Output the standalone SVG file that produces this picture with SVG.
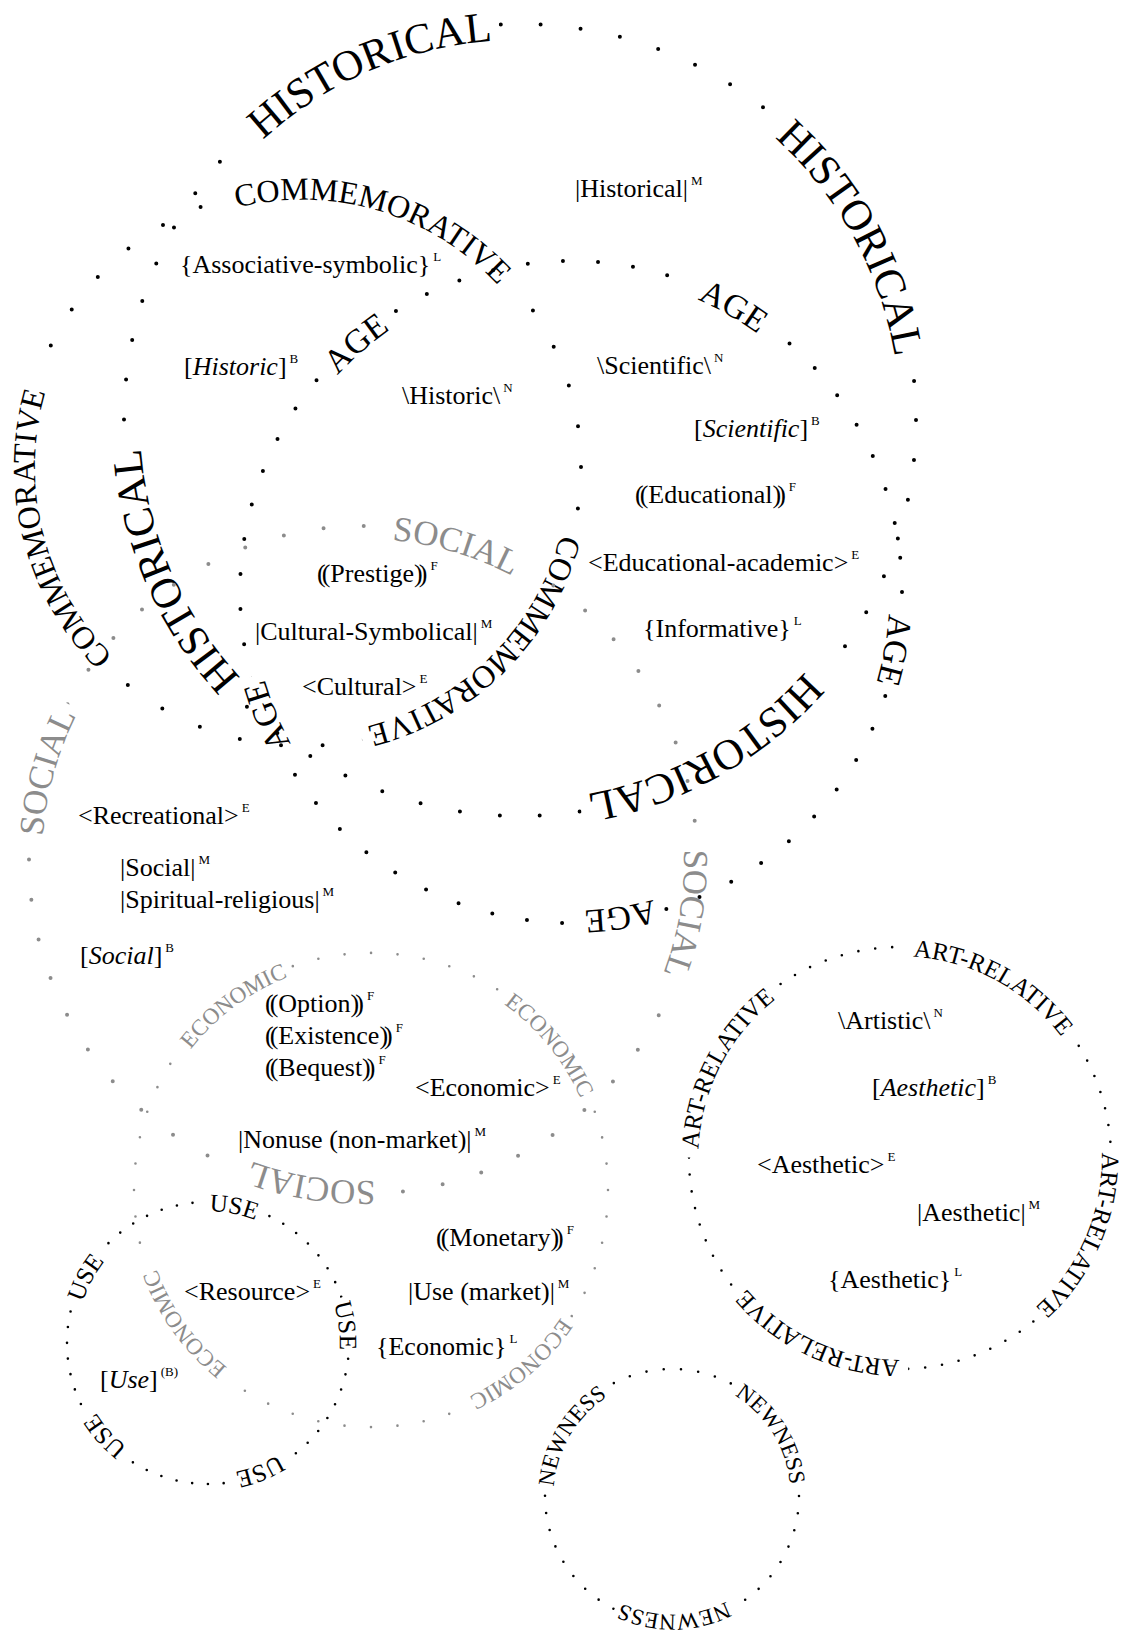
<svg xmlns="http://www.w3.org/2000/svg" width="1125" height="1633" viewBox="0 0 1125 1633">
<style>
.cat{font-family:"Liberation Serif","Times New Roman",serif;text-anchor:middle}
.blk{fill:#000}
.gry{fill:#8c8c8c}
.v{font-family:"Liberation Serif","Times New Roman",serif;font-size:26px;fill:#000}
.sup{font-size:13px}
.it{font-style:italic}
.dot{fill:none;stroke-linecap:round}
.db{stroke:#000;stroke-width:4}
.ds{stroke:#000;stroke-width:2.6}
.gb{stroke:#8c8c8c;stroke-width:4}
.gs{stroke:#8c8c8c;stroke-width:2.6}
.mk{fill:none;stroke:#000;stroke-width:20}
</style>
<defs>
<path id="tpH" d="M900.1,420 A380.1,380.1 0 1 1 139.9,420 A380.1,380.1 0 1 1 900.1,420 A380.1,380.1 0 1 1 139.9,420 A380.1,380.1 0 1 1 900.1,420"/>
<path id="tpC" d="M569.16,467 A267.16,267.16 0 1 1 34.84,467 A267.16,267.16 0 1 1 569.16,467 A267.16,267.16 0 1 1 34.84,467 A267.16,267.16 0 1 1 569.16,467"/>
<path id="tpA" d="M889.42,592 A318.42,318.42 0 1 1 252.58,592 A318.42,318.42 0 1 1 889.42,592 A318.42,318.42 0 1 1 252.58,592 A318.42,318.42 0 1 1 889.42,592"/>
<path id="tpS" d="M684.05,860 A321.05,321.05 0 1 1 41.95,860 A321.05,321.05 0 1 1 684.05,860 A321.05,321.05 0 1 1 41.95,860 A321.05,321.05 0 1 1 684.05,860"/>
<path id="tpE" d="M599.49,1190 A228.49,228.49 0 1 1 142.51,1190 A228.49,228.49 0 1 1 599.49,1190 A228.49,228.49 0 1 1 142.51,1190 A228.49,228.49 0 1 1 599.49,1190"/>
<path id="tpU" d="M339.75,1343 A131.75,131.75 0 1 1 76.25,1343 A131.75,131.75 0 1 1 339.75,1343 A131.75,131.75 0 1 1 76.25,1343 A131.75,131.75 0 1 1 339.75,1343"/>
<path id="tpR" d="M1101.75,1158 A201.75,201.75 0 1 1 698.25,1158 A201.75,201.75 0 1 1 1101.75,1158 A201.75,201.75 0 1 1 698.25,1158 A201.75,201.75 0 1 1 1101.75,1158"/>
<path id="tpN" d="M790.49,1496 A118.49,118.49 0 1 1 553.51,1496 A118.49,118.49 0 1 1 790.49,1496 A118.49,118.49 0 1 1 553.51,1496 A118.49,118.49 0 1 1 790.49,1496"/>

<mask id="mH" maskUnits="userSpaceOnUse" x="0" y="0" width="1125" height="1633">
<rect width="1125" height="1633" fill="#fff"/>
<path class="mk" d="M916,420 A396,396 0 1 1 124,420 A396,396 0 1 1 916,420" stroke-dasharray="283.4 301.3 283.4 335.2 283.4 378.7 283.4 339.4" transform="rotate(225.9 520 420)"/>
</mask>
<mask id="mC" maskUnits="userSpaceOnUse" x="0" y="0" width="1125" height="1633">
<rect width="1125" height="1633" fill="#fff"/>
<path class="mk" d="M581,467 A279,279 0 1 1 23,467 A279,279 0 1 1 581,467" stroke-dasharray="313.6 264.9 313.6 272.2 313.6 275.1" transform="rotate(254.3 302 467)"/>
</mask>
<mask id="mA" maskUnits="userSpaceOnUse" x="0" y="0" width="1125" height="1633">
<rect width="1125" height="1633" fill="#fff"/>
<path class="mk" d="M902,592 A331,331 0 1 1 240,592 A331,331 0 1 1 902,592" stroke-dasharray="84.3 322.9 84.3 323.5 84.3 326.4 84.3 357.6 84.3 327.6" transform="rotate(221.8 571 592)"/>
</mask>
<mask id="mS" maskUnits="userSpaceOnUse" x="0" y="0" width="1125" height="1633">
<rect width="1125" height="1633" fill="#fff"/>
<path class="mk" d="M697,860 A334,334 0 1 1 29,860 A334,334 0 1 1 697,860" stroke-dasharray="145.7 338.7 145.7 376.6 145.7 416.2 145.7 384.2" transform="rotate(273.7 363 860)"/>
</mask>
<mask id="mE" maskUnits="userSpaceOnUse" x="0" y="0" width="1125" height="1633">
<rect width="1125" height="1633" fill="#fff"/>
<path class="mk" d="M608,1190 A237,237 0 1 1 134,1190 A237,237 0 1 1 608,1190" stroke-dasharray="139 223.8 139 226.3 139 254.4 139 228.7" transform="rotate(216.4 371 1190)"/>
</mask>
<mask id="mU" maskUnits="userSpaceOnUse" x="0" y="0" width="1125" height="1633">
<rect width="1125" height="1633" fill="#fff"/>
<path class="mk" d="M349,1343 A141,141 0 1 1 67,1343 A141,141 0 1 1 349,1343" stroke-dasharray="56.6 122.3 56.6 120.3 56.6 128.7 56.6 115.7 56.6 115.9" transform="rotate(196.5 208 1343)"/>
</mask>
<mask id="mR" maskUnits="userSpaceOnUse" x="0" y="0" width="1125" height="1633">
<rect width="1125" height="1633" fill="#fff"/>
<path class="mk" d="M1111,1158 A211,211 0 1 1 689,1158 A211,211 0 1 1 1111,1158" stroke-dasharray="198.9 113.4 198.9 138.8 198.9 141 198.9 137" transform="rotate(271.2 900 1158)"/>
</mask>
<mask id="mN" maskUnits="userSpaceOnUse" x="0" y="0" width="1125" height="1633">
<rect width="1125" height="1633" fill="#fff"/>
<path class="mk" d="M799,1496 A127,127 0 1 1 545,1496 A127,127 0 1 1 799,1496" stroke-dasharray="123.2 137.2 123.2 144.5 123.2 146.5" transform="rotate(182.9 672 1496)"/>
</mask>
</defs>

<rect width="1125" height="1633" fill="#fff"/>

<g id="historical">
<path class="dot db" d="M916,420 A396,396 0 1 1 124,420 A396,396 0 1 1 916,420" stroke-dasharray="0 40.13" mask="url(#mH)"/>
<text class="cat blk" font-size="43"><textPath href="#tpH" startOffset="4022.9">HISTORICAL</textPath></text>
<text class="cat blk" font-size="43"><textPath href="#tpH" startOffset="4584.1">HISTORICAL</textPath></text>
<text class="cat blk" font-size="43"><textPath href="#tpH" startOffset="2789.6">HISTORICAL</textPath></text>
<text class="cat blk" font-size="43"><textPath href="#tpH" startOffset="3425.1">HISTORICAL</textPath></text>
</g>

<g id="commemorative">
<path class="dot db" d="M581,467 A279,279 0 1 1 23,467 A279,279 0 1 1 581,467" stroke-dasharray="0 41.74" mask="url(#mC)"/>
<text class="cat blk" font-size="32"><textPath href="#tpC" startOffset="3014.5">COMMEMORATIVE</textPath></text>
<text class="cat blk" font-size="32"><textPath href="#tpC" startOffset="1889.8">COMMEMORATIVE</textPath></text>
<text class="cat blk" font-size="32"><textPath href="#tpC" startOffset="2450.8">COMMEMORATIVE</textPath></text>
</g>

<g id="age">
<path class="dot db" d="M902,592 A331,331 0 1 1 240,592 A331,331 0 1 1 902,592" stroke-dasharray="0 35.25" mask="url(#mA)"/>
<text class="cat blk" font-size="34"><textPath href="#tpA" startOffset="3273.9">AGE</textPath></text>
<text class="cat blk" font-size="34"><textPath href="#tpA" startOffset="3665.7">AGE</textPath></text>
<text class="cat blk" font-size="34"><textPath href="#tpA" startOffset="2057.3">AGE</textPath></text>
<text class="cat blk" font-size="34"><textPath href="#tpA" startOffset="2452.5">AGE</textPath></text>
<text class="cat blk" font-size="34"><textPath href="#tpA" startOffset="2877.6">AGE</textPath></text>
</g>

<g id="social">
<path class="dot gb" d="M697,860 A334,334 0 1 1 29,860 A334,334 0 1 1 697,860" stroke-dasharray="0 40.36" mask="url(#mS)"/>
<text class="cat gry" font-size="35"><textPath href="#tpS" startOffset="3621">SOCIAL</textPath></text>
<text class="cat gry" font-size="35"><textPath href="#tpS" startOffset="2069.3">SOCIAL</textPath></text>
<text class="cat gry" font-size="35"><textPath href="#tpS" startOffset="2571.4">SOCIAL</textPath></text>
<text class="cat gry" font-size="35"><textPath href="#tpS" startOffset="3111.6">SOCIAL</textPath></text>
</g>

<g id="economic">
<path class="dot gs" d="M608,1190 A237,237 0 1 1 134,1190 A237,237 0 1 1 608,1190" stroke-dasharray="0 26.59" mask="url(#mE)"/>
<text class="cat gry" font-size="23"><textPath href="#tpE" startOffset="2365.7">ECONOMIC</textPath></text>
<text class="cat gry" font-size="23"><textPath href="#tpE" startOffset="2715.5">ECONOMIC</textPath></text>
<text class="cat gry" font-size="23"><textPath href="#tpE" startOffset="1631.9">ECONOMIC</textPath></text>
<text class="cat gry" font-size="23"><textPath href="#tpE" startOffset="2011.2">ECONOMIC</textPath></text>
</g>

<g id="use">
<path class="dot ds" d="M349,1343 A141,141 0 1 1 67,1343 A141,141 0 1 1 349,1343" stroke-dasharray="0 15.82" mask="url(#mU)"/>
<text class="cat blk" font-size="25"><textPath href="#tpU" startOffset="1306.1">USE</textPath></text>
<text class="cat blk" font-size="25"><textPath href="#tpU" startOffset="1473.3">USE</textPath></text>
<text class="cat blk" font-size="25"><textPath href="#tpU" startOffset="1638.6">USE</textPath></text>
<text class="cat blk" font-size="25"><textPath href="#tpU" startOffset="983.9">USE</textPath></text>
<text class="cat blk" font-size="25"><textPath href="#tpU" startOffset="1144.9">USE</textPath></text>
</g>

<g id="art-relative">
<path class="dot ds" d="M1111,1158 A211,211 0 1 1 689,1158 A211,211 0 1 1 1111,1158" stroke-dasharray="0 17" mask="url(#mR)"/>
<text class="cat blk" font-size="25"><textPath href="#tpR" startOffset="2317.6">ART-RELATIVE</textPath></text>
<text class="cat blk" font-size="25"><textPath href="#tpR" startOffset="1348.6">ART-RELATIVE</textPath></text>
<text class="cat blk" font-size="25"><textPath href="#tpR" startOffset="1671.5">ART-RELATIVE</textPath></text>
<text class="cat blk" font-size="25"><textPath href="#tpR" startOffset="1996.5">ART-RELATIVE</textPath></text>
</g>

<g id="newness">
<path class="dot ds" d="M799,1496 A127,127 0 1 1 545,1496 A127,127 0 1 1 799,1496" stroke-dasharray="0 17.35" mask="url(#mN)"/>
<text class="cat blk" font-size="23"><textPath href="#tpN" startOffset="1180.3">NEWNESS</textPath></text>
<text class="cat blk" font-size="23"><textPath href="#tpN" startOffset="1423.3">NEWNESS</textPath></text>
<text class="cat blk" font-size="23"><textPath href="#tpN" startOffset="928.6">NEWNESS</textPath></text>
</g>

<g id="values">
<text id="v1" class="v" x="575" y="197">|Historical|<tspan class="sup" dx="3" dy="-12">M</tspan></text>
<text id="v2" class="v" x="180" y="273">{Associative-symbolic}<tspan class="sup" dx="3" dy="-12">L</tspan></text>
<text id="v3" class="v" x="184" y="375">[<tspan class="it">Historic</tspan>]<tspan class="sup" dx="3" dy="-12">B</tspan></text>
<text id="v4" class="v" x="402" y="404">\Historic\<tspan class="sup" dx="3" dy="-12">N</tspan></text>
<text id="v5" class="v" x="597" y="374">\Scientific\<tspan class="sup" dx="3" dy="-12">N</tspan></text>
<text id="v6" class="v" x="694" y="437">[<tspan class="it">Scientific</tspan>]<tspan class="sup" dx="3" dy="-12">B</tspan></text>
<text id="v7" class="v" x="635" y="503">(<tspan dx="-4">(</tspan>Educational)<tspan dx="-4">)</tspan><tspan class="sup" dx="3" dy="-12">F</tspan></text>
<text id="v8" class="v" x="588" y="571">&lt;Educational-academic&gt;<tspan class="sup" dx="3" dy="-12">E</tspan></text>
<text id="v9" class="v" x="643" y="637">{Informative}<tspan class="sup" dx="3" dy="-12">L</tspan></text>
<text id="v10" class="v" x="317" y="582">(<tspan dx="-4">(</tspan>Prestige)<tspan dx="-4">)</tspan><tspan class="sup" dx="3" dy="-12">F</tspan></text>
<text id="v11" class="v" x="255" y="640">|Cultural-Symbolical|<tspan class="sup" dx="3" dy="-12">M</tspan></text>
<text id="v12" class="v" x="302" y="695">&lt;Cultural&gt;<tspan class="sup" dx="3" dy="-12">E</tspan></text>
<text id="v13" class="v" x="78" y="824">&lt;Recreational&gt;<tspan class="sup" dx="3" dy="-12">E</tspan></text>
<text id="v14" class="v" x="120" y="876">|Social|<tspan class="sup" dx="3" dy="-12">M</tspan></text>
<text id="v15" class="v" x="120" y="908">|Spiritual-religious|<tspan class="sup" dx="3" dy="-12">M</tspan></text>
<text id="v16" class="v" x="80" y="964">[<tspan class="it">Social</tspan>]<tspan class="sup" dx="3" dy="-12">B</tspan></text>
<text id="v17" class="v" x="265" y="1012">(<tspan dx="-4">(</tspan>Option)<tspan dx="-4">)</tspan><tspan class="sup" dx="3" dy="-12">F</tspan></text>
<text id="v18" class="v" x="265" y="1044">(<tspan dx="-4">(</tspan>Existence)<tspan dx="-4">)</tspan><tspan class="sup" dx="3" dy="-12">F</tspan></text>
<text id="v19" class="v" x="265" y="1076">(<tspan dx="-4">(</tspan>Bequest)<tspan dx="-4">)</tspan><tspan class="sup" dx="3" dy="-12">F</tspan></text>
<text id="v20" class="v" x="415" y="1096">&lt;Economic&gt;<tspan class="sup" dx="3" dy="-12">E</tspan></text>
<text id="v21" class="v" x="238" y="1148">|Nonuse (non-market)|<tspan class="sup" dx="3" dy="-12">M</tspan></text>
<text id="v22" class="v" x="436" y="1246">(<tspan dx="-4">(</tspan>Monetary)<tspan dx="-4">)</tspan><tspan class="sup" dx="3" dy="-12">F</tspan></text>
<text id="v23" class="v" x="408" y="1300">|Use (market)|<tspan class="sup" dx="3" dy="-12">M</tspan></text>
<text id="v24" class="v" x="376" y="1355">{Economic}<tspan class="sup" dx="3" dy="-12">L</tspan></text>
<text id="v25" class="v" x="184" y="1300">&lt;Resource&gt;<tspan class="sup" dx="3" dy="-12">E</tspan></text>
<text id="v26" class="v" x="100" y="1388">[<tspan class="it">Use</tspan>]<tspan class="sup" dx="3" dy="-12">(B)</tspan></text>
<text id="v27" class="v" x="838" y="1029">\Artistic\<tspan class="sup" dx="3" dy="-12">N</tspan></text>
<text id="v28" class="v" x="872" y="1096">[<tspan class="it">Aesthetic</tspan>]<tspan class="sup" dx="3" dy="-12">B</tspan></text>
<text id="v29" class="v" x="757" y="1173">&lt;Aesthetic&gt;<tspan class="sup" dx="3" dy="-12">E</tspan></text>
<text id="v30" class="v" x="917" y="1221">|Aesthetic|<tspan class="sup" dx="3" dy="-12">M</tspan></text>
<text id="v31" class="v" x="828" y="1288">{Aesthetic}<tspan class="sup" dx="3" dy="-12">L</tspan></text>
</g>
</svg>
